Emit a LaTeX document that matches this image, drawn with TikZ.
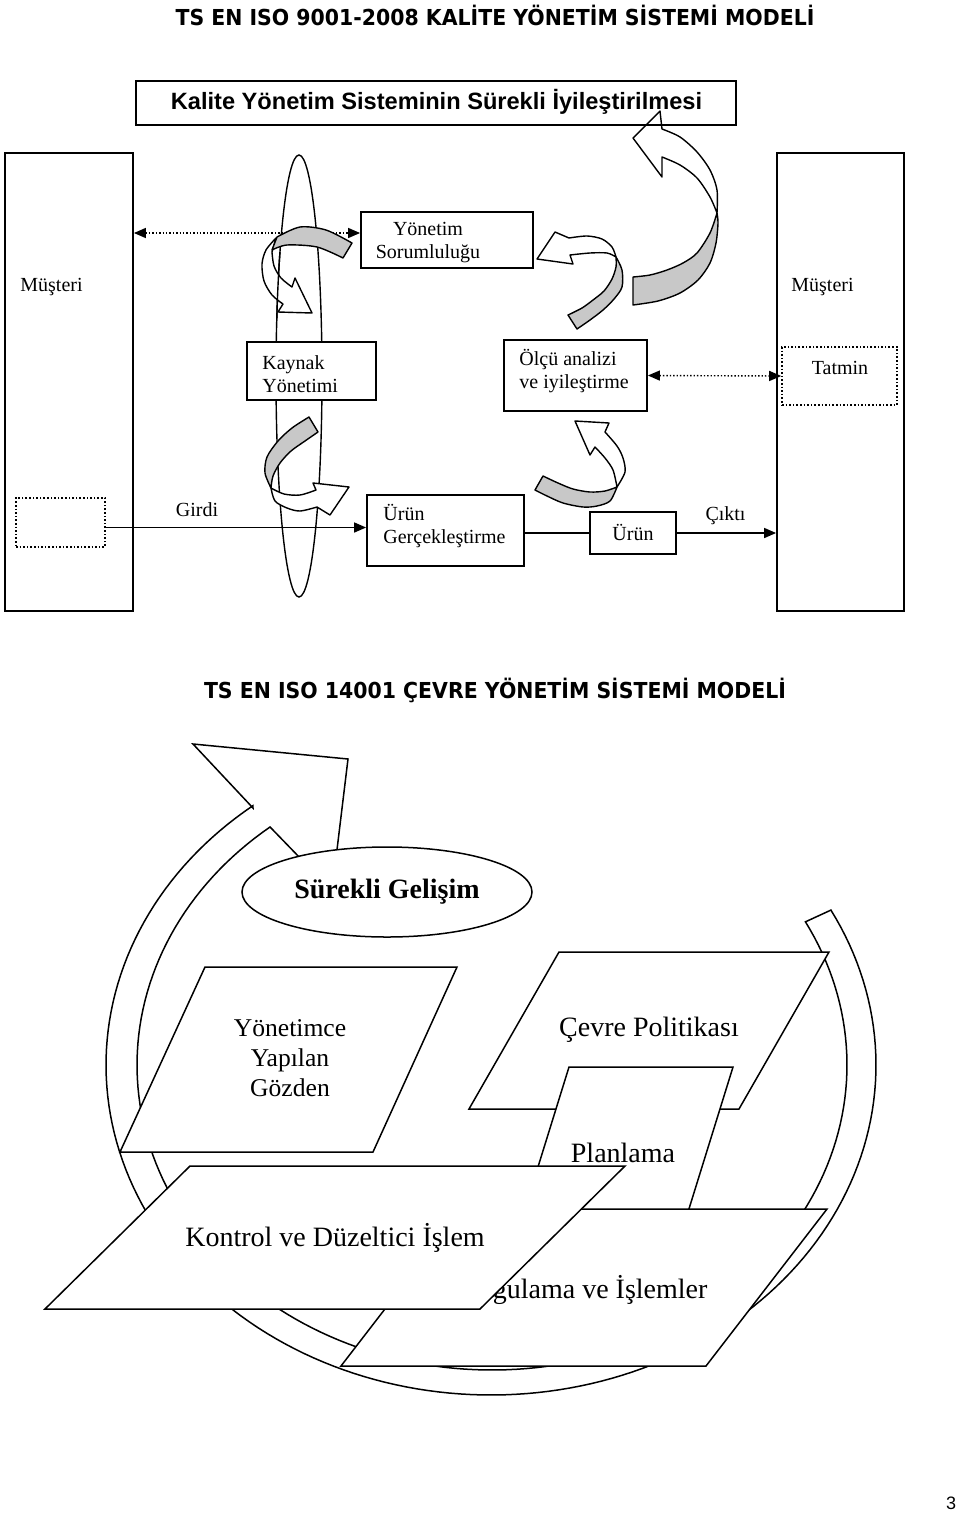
\documentclass[tikz,border=0pt]{standalone}
\usepackage{fontspec}
\usepackage{graphicx}
\setmainfont{Liberation Serif}
\newfontfamily\titlefont{DejaVu Sans}
\newfontfamily\arialfont{Liberation Sans}
\usetikzlibrary{arrows.meta,shapes.geometric}
\definecolor{bandgray}{RGB}{200,200,200}
\begin{document}
\begin{tikzpicture}[x=0.5pt,y=-0.5pt,
  boxst/.style={draw, line width=0.9pt, fill=white, inner sep=0pt},
  dotbox/.style={draw, line width=0.8pt, densely dotted, fill=white, inner sep=0pt},
  lbl/.style={inner sep=0pt, font=\fontsize{10}{11.5}\selectfont, align=left},
  dotarr/.style={densely dotted, line width=0.7pt, {Triangle[length=6pt,width=5pt]}-{Triangle[length=6pt,width=5pt]}},
  solarr/.style={line width=0.8pt, -{Triangle[length=6pt,width=5pt]}},
  rib/.style={draw, line width=0.7pt, line join=round},
  pole/.style={line width=0.7pt},
  para/.style={draw, line width=0.75pt, fill=white, line join=miter},
  btxt/.style={inner sep=0pt, font=\fontsize{14}{16}\selectfont, align=center}
]
\useasboundingbox[fill=white] (0,0) rectangle (960,1516);

% ---------------- titles
\node[inner sep=0pt] (t1) at (495,15) {\titlefont\bfseries\fontsize{11}{13}\selectfont\scalebox{0.93}[1]{TS EN ISO 9001-2008 KALİTE YÖNETİM SİSTEMİ MODELİ}};
\node[inner sep=0pt] (t2) at (495,690) {\titlefont\bfseries\fontsize{11}{13}\selectfont\scalebox{0.93}[1]{TS EN ISO 14001 ÇEVRE YÖNETİM SİSTEMİ MODELİ}};

% ---------------- top section: side boxes
\node[boxst, minimum width=64pt, minimum height=229pt] (musL) at (69,382) {};
\node[boxst, minimum width=63.5pt, minimum height=229pt] (musR) at (840.5,382) {};
\node[dotbox, minimum width=44.5pt, minimum height=24.5pt] (dotL) at (60.5,522.5) {};
\node[dotbox, minimum width=57.5pt, minimum height=29pt] (tat) at (839.5,376) {};

% pole
\draw[pole] (299,376) ellipse [x radius=11.5pt, y radius=110.5pt];

% inner boxes (sizes only, for anchors)
\node[boxst, minimum width=86pt, minimum height=28pt] (yon) at (447,240) {};
\node[boxst, minimum width=71.5pt, minimum height=35.5pt] (olcu) at (575.5,375.5) {};
\node[boxst, minimum width=78.5pt, minimum height=35.5pt] (urg) at (445.5,530.5) {};
\node[boxst, minimum width=43pt, minimum height=21pt] (urun) at (633,533) {};

% connectors
\coordinate (ya) at ([yshift=3.5pt]yon.west);
\draw[dotarr] (ya -| musL.east) -- (ya);
\draw[dotarr] (olcu.east) -- (tat.west);
\coordinate (gin) at ([yshift=-2.5pt]dotL.east);
\draw[solarr] (gin) -- (gin -| urg.west);
\draw[line width=0.8pt] (urg.east |- urun.west) -- (urun.west);
\draw[solarr] (urun.east) -- (urun.east -| musR.west);

% ---------------- curved ribbon arrows
% A : Yonetim -> Kaynak
\filldraw[rib, fill=white] (276,238) -- plot[smooth] coordinates {(276,238) (266,250) (262,264) (264,281) (272,295) (283,304)} -- (278,312) -- (312,313) -- (295,278) -- plot[smooth] coordinates {(292,287) (281,278) (274,266) (272,252)} -- cycle;
\filldraw[rib, fill=bandgray] plot[smooth] coordinates {(352,243) (326,230) (300,227) (277,237)} -- plot[smooth] coordinates {(272,250) (287,245) (317,247) (343,258)} -- cycle;
\begin{scope}
  \clip (255,252) rectangle (300,320);
  \draw[pole] (299,376) ellipse [x radius=11.5pt, y radius=110.5pt];
\end{scope}
% B : Kaynak -> Urun Gerceklestirme
\filldraw[rib, fill=bandgray] plot[smooth] coordinates {(309,417) (292,428) (278,441) (267,457) (265,473) (271,488)} -- plot[smooth] coordinates {(271,488) (273,476) (280,463) (291,451) (305,441) (318,432)} -- cycle;
\filldraw[rib, fill=white] plot[smooth] coordinates {(271,488) (275,501) (287,508) (300,511) (317,507)} -- (330,515) -- (349,487) -- (313,483) -- plot[smooth] coordinates {(316,490) (300,495) (284,494) (271,488)} -- cycle;
% C : Urun -> Olcu
\filldraw[rib, fill=bandgray] plot[smooth] coordinates {(543,476) (558,483) (573,489) (590,492) (605,491) (617,487)} -- plot[smooth] coordinates {(617,487) (610,501) (597,506) (583,507) (563,503) (547,496) (535,490)} -- cycle;
\filldraw[rib, fill=white] plot[smooth] coordinates {(617,487) (625,472) (623,458) (617,446) (605,432)} -- (609,423) -- (575,421) -- (590,455) -- plot[smooth] coordinates {(595,447) (605,458) (613,470) (617,487)} -- cycle;
% D : Olcu -> Kalite box
\filldraw[rib, fill=bandgray] (633,277) -- plot[smooth] coordinates {(633,305) (658,301) (680,293) (698,280) (710,263) (716,243) (718,223) (717,213)} -- plot[smooth] coordinates {(717,213) (710,233) (697,253) (683,263) (667,270) (650,275) (633,277)} -- cycle;
\filldraw[rib, fill=white] plot[smooth] coordinates {(717,213) (717,190) (710,170) (697,152) (680,137) (662,129)} -- (660,111) -- (633,138) -- (662,177) -- plot[smooth] coordinates {(662,157) (680,165) (697,178) (710,197) (717,213)} -- cycle;
% E : Olcu -> Yonetim
\filldraw[rib, fill=bandgray] plot[smooth] coordinates {(568,315) (582,308) (593,300) (604,291) (612,279) (616,267) (616,257)} -- plot[smooth] coordinates {(616,257) (622,270) (622,287) (614,299) (603,310) (590,320) (577,329)} -- cycle;
\filldraw[rib, fill=white] plot[smooth] coordinates {(616,257) (612,247) (602,239) (587,236) (569,238)} -- (555,232) -- (537,259) -- (573,264) -- plot[smooth] coordinates {(570,255) (590,253) (607,253) (616,257)} -- cycle;

% Kaynak box over pole
\node[boxst, minimum width=64.5pt, minimum height=29pt] (kay) at (311.5,371) {};

% Kalite box (outline on top)
\node[draw, line width=0.9pt, inner sep=0pt, minimum width=300pt, minimum height=22pt] (kal) at (436,103) {};
\node[inner sep=0pt, font=\arialfont\bfseries\fontsize{11.8}{13}\selectfont] (kalt) at (436.5,102) {Kalite Yönetim Sisteminin Sürekli İyileştirilmesi};

% top labels
\node[lbl, anchor=west] (musLt) at (20,287) {Müşteri};
\node[lbl, anchor=west] (musRt) at (791,287) {Müşteri};
\node[lbl, align=center] (yont) at (428,243) {Yönetim\\Sorumluluğu};
\node[lbl, anchor=west] (kayt) at (262,374) {Kaynak\\Yönetimi};
\node[lbl, anchor=west] (olcut) at (519,371) {Ölçü analizi\\ve iyileştirme};
\node[lbl] (tatt) at (840,368) {Tatmin};
\node[lbl] (girdi) at (197,510) {Girdi};
\node[lbl, anchor=west] (urgt) at (383,526) {Ürün\\Gerçekleştirme};
\node[lbl] (urunt) at (633,532) {Ürün};
\node[lbl] (cikti) at (725.5,516) {Çıktı};

% ---------------- bottom section
\filldraw[para] (253,808) -- plot[domain=128.2:388, samples=160, variable=\t] ({491+385*cos(\t)},{1065-330*sin(\t)}) -- plot[domain=388:128.7, samples=160, variable=\t] ({492+355*cos(\t)},{1065-305*sin(\t)}) -- (332,891) -- (348,759) -- (193,744) -- cycle;

\node[ellipse, draw, line width=0.75pt, fill=white, minimum width=145pt, minimum height=45pt, inner sep=0pt, font=\bfseries\fontsize{14}{16}\selectfont] (sg) at (387,892) {Sürekli Gelişim};

\filldraw[para] (205,967) -- (457,967) -- (373,1152) -- (120,1152) -- cycle;
\node[btxt, font=\fontsize{12.8}{15}\selectfont] (ygt) at (290,1058) {Yönetimce\\Yapılan\\Gözden};

\filldraw[para] (559,952) -- (829,952) -- (739,1109) -- (469,1109) -- cycle;
\node[btxt] (cpt) at (649,1030) {Çevre Politikası};

\filldraw[para] (569,1067) -- (733,1067) -- (688,1212) -- (524,1212) -- cycle;
\node[btxt] (plt) at (623,1153) {Planlama};

\filldraw[para] (462,1209) -- (827,1209) -- (706,1366) -- (341,1366) -- cycle;
\node[btxt] (uit) at (583,1290) {Uygulama ve İşlemler};

\filldraw[para] (190,1166) -- (625,1166) -- (480,1309) -- (45,1309) -- cycle;
\node[btxt] (kdt) at (335,1238) {Kontrol ve Düzeltici İşlem};

\node[inner sep=0pt, font=\arialfont\fontsize{9}{10}\selectfont] (pg) at (951,1503) {3};
\end{tikzpicture}
\end{document}
